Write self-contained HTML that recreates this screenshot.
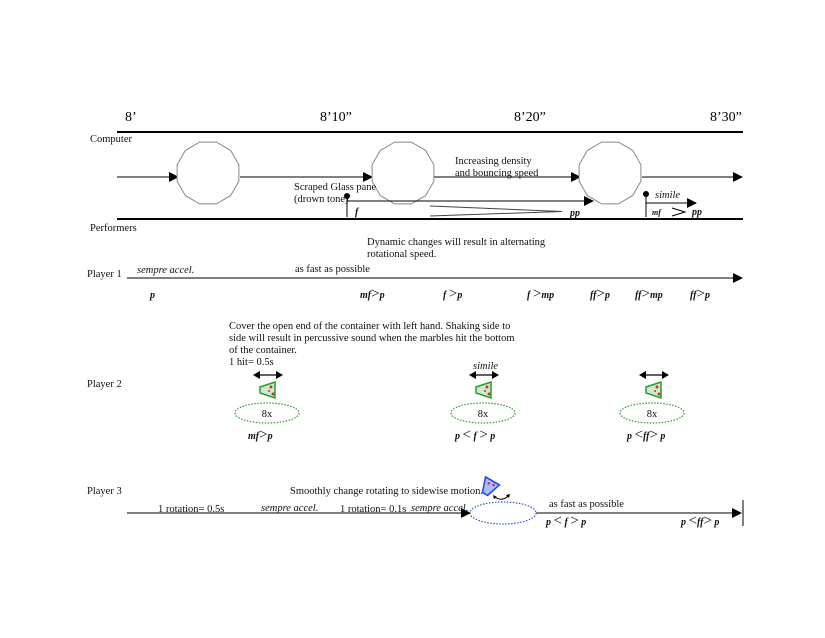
<!DOCTYPE html>
<html><head><meta charset="utf-8"><style>
html,body{margin:0;padding:0;background:#fff;}
svg{display:block;font-family:"Liberation Serif",serif;}
.t{font-size:10.5px;fill:#111;}
.i{font-size:10.5px;font-style:italic;fill:#111;}
.d{font-size:10px;font-style:italic;font-weight:bold;fill:#111;}
.h{font-size:15px;font-style:normal;font-weight:normal;}
</style></head><body>
<svg width="825" height="638" viewBox="0 0 825 638" xmlns="http://www.w3.org/2000/svg">
<defs>
<marker id="a" viewBox="0 0 10 10" refX="9" refY="5" markerWidth="10" markerHeight="10" markerUnits="userSpaceOnUse" orient="auto"><path d="M0,0L10,5L0,10z" fill="#000"/></marker>
<polygon id="dd" points="30.9,8.3 22.6,22.6 8.3,30.9 -8.3,30.9 -22.6,22.6 -30.9,8.3 -30.9,-8.3 -22.6,-22.6 -8.3,-30.9 8.3,-30.9 22.6,-22.6 30.9,-8.3" fill="#fff" stroke="#888" stroke-width="1"/>
<g id="cone"><polygon points="-8,-3 7,-8 7,8 -8,3" fill="#cfe8cf" stroke="#2a9a2a" stroke-width="1.5"/><circle cx="3" cy="-3" r="1.5" fill="#c33"/><circle cx="5" cy="4" r="1.5" fill="#c33"/><circle cx="1" cy="1" r="1" fill="#c33"/></g>
<g id="dbl"><line x1="-13" y1="0" x2="13" y2="0" stroke="#000" stroke-width="1.2"/><path d="M-15,0L-8,-4L-8,4z M15,0L8,-4L8,4z" fill="#000"/></g>
</defs>
<text x="125" y="121" style="font-size:14px">8’</text>
<text x="320" y="121" style="font-size:14px">8’10”</text>
<text x="514" y="121" style="font-size:14px">8’20”</text>
<text x="710" y="121" style="font-size:14px">8’30”</text>
<line x1="117" y1="132" x2="743" y2="132" stroke="#000" stroke-width="2"/>
<text x="90" y="142" class="t">Computer</text>
<line x1="117" y1="219" x2="743" y2="219" stroke="#000" stroke-width="2"/>
<text x="90" y="231" class="t">Performers</text>
<g stroke="#000" stroke-width="1" marker-end="url(#a)">
<line x1="117" y1="177" x2="178" y2="177"/>
<line x1="240" y1="177" x2="372" y2="177"/>
<line x1="434" y1="177" x2="580" y2="177"/>
<line x1="642" y1="177" x2="742" y2="177"/>
<line x1="347" y1="201" x2="593" y2="201"/>
<line x1="646" y1="203" x2="696" y2="203"/>
</g>
<use href="#dd" x="208" y="173"/>
<use href="#dd" x="403" y="173"/>
<use href="#dd" x="610" y="173"/>
<line x1="347" y1="201" x2="593" y2="201" stroke="#000"/>
<text x="455" y="164" class="t">Increasing density</text>
<text x="455" y="176" class="t">and bouncing speed</text>
<text x="294" y="190" class="t">Scraped Glass pane</text>
<text x="294" y="202" class="t">(drown tone)</text>
<circle cx="347" cy="196" r="3" fill="#000"/>
<line x1="347" y1="196" x2="347" y2="217" stroke="#000"/>
<text x="355" y="215" class="d">f</text>
<polyline points="430,206 562,211.5 430,216" fill="none" stroke="#444"/>
<text x="570" y="216" class="d">pp</text>
<circle cx="646" cy="194" r="3" fill="#000"/>
<line x1="646" y1="194" x2="646" y2="217" stroke="#000"/>
<text x="655" y="198" class="i">simile</text>
<text x="652" y="215" class="d" style="font-size:8px">mf</text>
<polyline points="672,208 685,212 672,216" fill="none" stroke="#000"/>
<text x="692" y="215" class="d">pp</text>

<text x="367" y="245" class="t">Dynamic changes will result in alternating</text>
<text x="367" y="257" class="t">rotational speed.</text>
<text x="87" y="277" class="t">Player 1</text>
<line x1="127" y1="278" x2="742" y2="278" stroke="#000" marker-end="url(#a)"/>
<text x="137" y="273" class="i">sempre accel.</text>
<text x="295" y="272" class="t">as fast as possible</text>
<text x="150" y="298" class="d">p</text>
<text x="360" y="298" class="d">mf<tspan class="h">&gt;</tspan>p</text>
<text x="443" y="298" class="d">f <tspan class="h">&gt;</tspan>p</text>
<text x="527" y="298" class="d">f <tspan class="h">&gt;</tspan>mp</text>
<text x="590" y="298" class="d">ff<tspan class="h">&gt;</tspan>p</text>
<text x="635" y="298" class="d">ff<tspan class="h">&gt;</tspan>mp</text>
<text x="690" y="298" class="d">ff<tspan class="h">&gt;</tspan>p</text>

<text x="229" y="329" class="t">Cover the open end of the container with left hand. Shaking side to</text>
<text x="229" y="341" class="t">side will result in percussive sound when the marbles hit the bottom</text>
<text x="229" y="353" class="t">of the container.</text>
<text x="229" y="365" class="t">1 hit= 0.5s</text>
<text x="87" y="387" class="t">Player 2</text>
<text x="473" y="369" class="i">simile</text>
<use href="#dbl" x="268" y="375"/><use href="#dbl" x="484" y="375"/><use href="#dbl" x="654" y="375"/>
<use href="#cone" x="268" y="390"/><use href="#cone" x="484" y="390"/><use href="#cone" x="654" y="390"/>
<g fill="none" stroke="#2a9a2a" stroke-width="1.2" stroke-dasharray="1.5,1.5">
<ellipse cx="267" cy="413" rx="32" ry="10"/><ellipse cx="483" cy="413" rx="32" ry="10"/><ellipse cx="652" cy="413" rx="32" ry="10"/>
</g>
<text x="267" y="417" class="t" text-anchor="middle">8x</text>
<text x="483" y="417" class="t" text-anchor="middle">8x</text>
<text x="652" y="417" class="t" text-anchor="middle">8x</text>
<text x="248" y="439" class="d">mf<tspan class="h">&gt;</tspan>p</text>
<text x="455" y="439" class="d">p <tspan class="h">&lt;</tspan> f <tspan class="h">&gt;</tspan> p</text>
<text x="627" y="439" class="d">p <tspan class="h">&lt;</tspan>ff<tspan class="h">&gt;</tspan> p</text>

<text x="87" y="494" class="t">Player 3</text>
<text x="290" y="494" class="t">Smoothly change rotating to sidewise motion.</text>
<line x1="127" y1="513" x2="470" y2="513" stroke="#000" marker-end="url(#a)"/>
<ellipse cx="503" cy="513" rx="33" ry="11" fill="none" stroke="#3355dd" stroke-width="1.2" stroke-dasharray="1.5,1.5"/>
<line x1="536" y1="513" x2="741" y2="513" stroke="#000" marker-end="url(#a)"/>
<line x1="743" y1="500" x2="743" y2="526" stroke="#000"/>
<text x="158" y="512" class="t">1 rotation= 0.5s</text>
<text x="261" y="511" class="i">sempre accel.</text>
<text x="340" y="512" class="t">1 rotation= 0.1s</text>
<text x="411" y="511" class="i">sempre accel.</text>
<text x="549" y="507" class="t">as fast as possible</text>
<text x="546" y="525" class="d">p <tspan class="h">&lt;</tspan> f <tspan class="h">&gt;</tspan> p</text>
<text x="681" y="525" class="d">p <tspan class="h">&lt;</tspan>ff<tspan class="h">&gt;</tspan> p</text>
<g transform="translate(489,487) rotate(-60)"><polygon points="-8,-3 7,-8 7,8 -8,3" fill="#aabbff" stroke="#2244dd" stroke-width="1.5"/><circle cx="3" cy="-2" r="1.3" fill="#c33"/><circle cx="4" cy="3" r="1.3" fill="#c33"/></g>
<path d="M495,497 Q502,502 508,496" fill="none" stroke="#000"/>
<path d="M493,495l4,2l-3,2z M510,494l-4,1l3,3z" fill="#000"/>
</svg>
</body></html>
